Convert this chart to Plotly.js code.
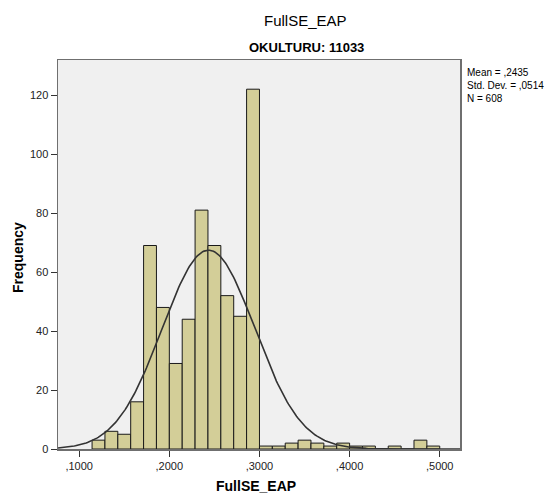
<!DOCTYPE html>
<html>
<head>
<meta charset="utf-8">
<script src="https://cdn.plot.ly/plotly-3.0.1.min.js"></script>
<style>html,body{margin:0;padding:0;background:#fff;}#chart{width:549px;height:496px;}</style>
</head>
<body>
<div id="chart"></div>
<script>
// ---- data ----
const binStart = 0.1143;
const binWidth = 0.014286;
const counts = [3, 6, 5, 16, 69, 48, 29, 44, 81, 69, 52, 45, 122,
                1, 1, 2, 3, 2, 1, 2, 1, 1, 0, 1, 0, 3, 1];
const xTickVals = [0.1, 0.2, 0.3, 0.4, 0.5];
const xTickText = [",1000", ",2000", ",3000", ",4000", ",5000"];
const yTickVals = [0, 20, 40, 60, 80, 100, 120];
const statMean = 0.2435;
const statSD = 0.0514;
const statN = 608;
const statsText = ["Mean = ,2435", "Std. Dev. = ,0514", "N = 608"];

// ---- derived ----
const centers = counts.map((c, i) => binStart + binWidth * (i + 0.5));
const xr = [0.0765, 0.5225];
const curveX = [], curveY = [];
for (let k = 0; k <= 300; k++) {
  const x = xr[0] + (xr[1] - xr[0]) * k / 300;
  const z = (x - statMean) / statSD;
  curveX.push(x);
  curveY.push(statN * binWidth * Math.exp(-0.5 * z * z) / (statSD * Math.sqrt(2 * Math.PI)));
}

const font = "Arial, 'Liberation Sans', sans-serif";
const data = [
  {type: "bar", x: centers, y: counts, width: binWidth,
   marker: {color: "#D3CE98", line: {color: "#1a1a1a", width: 1}},
   hoverinfo: "x+y"},
  {type: "scatter", mode: "lines", x: curveX, y: curveY,
   line: {color: "#333333", width: 1.6}, hoverinfo: "skip"}
];

const layout = {
  width: 549, height: 496,
  margin: {l: 58, r: 89, t: 60, b: 47},
  paper_bgcolor: "#ffffff", plot_bgcolor: "#F0F0F0",
  showlegend: false, bargap: 0,
  font: {family: font, size: 11, color: "#222"},
  xaxis: {range: xr, tickvals: xTickVals, ticktext: xTickText,
          ticks: "outside", ticklen: 6, tickcolor: "#333", tickwidth: 1,
          showgrid: false, zeroline: false, showline: true, mirror: true,
          linecolor: "#6f6f6f", linewidth: 1.5,
          tickfont: {family: font, size: 11, color: "#222"}},
  yaxis: {range: [0, 131.9], tickvals: yTickVals,
          ticks: "outside", ticklen: 6, tickcolor: "#333", tickwidth: 1,
          showgrid: false, zeroline: false, showline: true, mirror: true,
          linecolor: "#6f6f6f", linewidth: 1.5,
          tickfont: {family: font, size: 11, color: "#222"}},
  annotations: [
    {text: "FullSE_EAP", xref: "paper", yref: "paper", x: (305 - 58) / 402, y: 1 + (60 - 20) / 389,
     xanchor: "center", yanchor: "middle", showarrow: false,
     font: {family: font, size: 15, color: "#000"}},
    {text: "<b>OKULTURU: 11033</b>", xref: "paper", yref: "paper", x: (306 - 58) / 402, y: 1 + (60 - 48) / 389,
     xanchor: "center", yanchor: "middle", showarrow: false,
     font: {family: font, size: 13, color: "#000"}},
    {text: "<b>FullSE_EAP</b>", xref: "paper", yref: "paper", x: (256 - 58) / 402, y: -(486 - 449) / 389,
     xanchor: "center", yanchor: "middle", showarrow: false,
     font: {family: font, size: 14, color: "#000"}},
    {text: "<b>Frequency</b>", xref: "paper", yref: "paper", x: -(58 - 18) / 402, y: (449 - 258) / 389,
     xanchor: "center", yanchor: "middle", showarrow: false, textangle: -90,
     font: {family: font, size: 14, color: "#000"}},
    {text: statsText.join("<br>"), xref: "paper", yref: "paper", x: (466 - 58) / 402, y: 1 - (66 - 60) / 389,
     xanchor: "left", yanchor: "top", align: "left", showarrow: false, borderpad: 0,
     font: {family: font, size: 10, color: "#000"}}
  ]
};

Plotly.newPlot("chart", data, layout, {displayModeBar: false, staticPlot: true});
</script>
</body>
</html>
